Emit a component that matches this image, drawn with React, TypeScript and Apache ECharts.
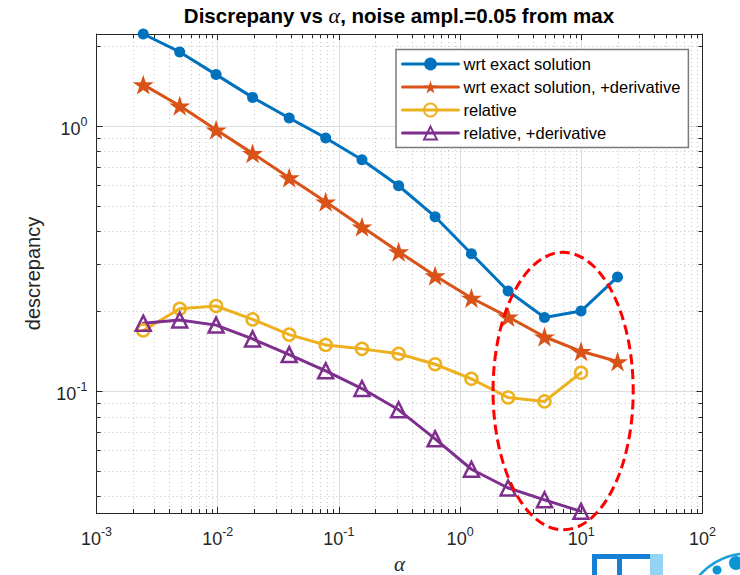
import React, { useEffect, useRef } from 'react';
import * as echarts from 'echarts';

// ---- data ----
const alphaValues = [0.00243, 0.00486, 0.0097, 0.0194, 0.0389, 0.0778, 0.155, 0.311, 0.622, 1.24, 2.49, 4.97, 9.95, 19.9];
const wrtExact = [2.22, 1.9, 1.56, 1.28, 1.07, 0.9, 0.744, 0.594, 0.454, 0.329, 0.238, 0.189, 0.2, 0.269];
const wrtExactDeriv = [1.43, 1.19, 0.966, 0.787, 0.637, 0.517, 0.416, 0.335, 0.272, 0.224, 0.19, 0.16, 0.141, 0.129];
const relative = [0.169, 0.204, 0.209, 0.186, 0.163, 0.149, 0.144, 0.138, 0.126, 0.111, 0.0944, 0.0912, 0.117];
const relativeDeriv = [0.18, 0.185, 0.177, 0.157, 0.137, 0.119, 0.102, 0.0848, 0.0659, 0.0506, 0.043, 0.0388, 0.0351];

const seriesNames = ['wrt exact solution', 'wrt exact solution, +derivative', 'relative', 'relative, +derivative'];
const seriesColors = ['#0072BD', '#D95319', '#EDB120', '#7E2F8E'];

const xRange = [0.001, 100];
const yRange = [0.0346, 2.22];
const decades = [-3, -2, -1, 0, 1];
const multipliers = [2, 3, 4, 5, 6, 7, 8, 9];

// highlighted region (data coordinates)
const ellipseAlpha = [1.87, 26.8];
const ellipseValue = [0.0299, 0.333];

const FONT = "'Liberation Sans', Arial, Helvetica, sans-serif";
const SERIF = "'Liberation Serif', 'DejaVu Serif', serif";
const AXIS_COLOR = '#262626';
const STAR = 'path://M100 0 L122.45 69.1 L195.11 69.1 L136.33 111.8 L158.78 180.9 L100 138.2 L41.22 180.9 L63.67 111.8 L4.89 69.1 L77.55 69.1 Z';

const pairs = (ys: number[]) => ys.map((y, i) => [alphaValues[i], y]);

const minorX: number[] = [];
decades.forEach((d) => multipliers.forEach((m) => minorX.push(+(m * Math.pow(10, d)).toPrecision(3))));
const minorY: number[] = [];
[-2, -1, 0].forEach((d) =>
  multipliers.forEach((m) => {
    const v = +(m * Math.pow(10, d)).toPrecision(3);
    if (v > yRange[0] && v < yRange[1]) minorY.push(v);
  })
);

const powLabel = (v: number) => {
  const l = Math.log10(v);
  const e = Math.round(l);
  if (Math.abs(l - e) > 1e-6) return '';
  return `{b|10}{s|${e}}`;
};

// both tokens have the same total height (20), so the superscript is raised by padding alone
const labelRich = {
  b: { fontSize: 18, lineHeight: 14, padding: [6, 0, 0, 0], fontFamily: FONT, color: AXIS_COLOR },
  s: { fontSize: 12.5, lineHeight: 12, padding: [0, 0, 8, 0], fontFamily: FONT, color: AXIS_COLOR },
};

const snap = (v: number) => Math.round(v) + 0.5;

export default function App() {
  const ref = useRef<HTMLDivElement>(null);
  useEffect(() => {
    if (!ref.current) return;
    const chart = echarts.init(ref.current, undefined, { renderer: 'svg' });

    const hollow = (c: string) => ({ color: 'rgba(255,255,255,0)', borderColor: c, borderWidth: 2.5 });

    const option: any = {
      animation: false,
      backgroundColor: '#ffffff',
      title: {
        text: 'Discrepany vs {a|α}, noise ampl.=0.05 from max',
        left: 399,
        textAlign: 'center',
        top: 3,
        padding: 0,
        textStyle: {
          fontFamily: FONT,
          fontWeight: 'bold',
          fontSize: 20.5,
          lineHeight: 24,
          color: '#000',
          rich: {
            a: { fontFamily: SERIF, fontStyle: 'italic', fontWeight: 'normal', fontSize: 22, lineHeight: 24, color: '#000' },
          },
        },
      },
      grid: { left: 96.5, right: 37.5, top: 34, bottom: 62, containLabel: false, outerBoundsMode: 'none' },
      legend: {
        data: seriesNames,
        orient: 'vertical',
        left: 396,
        top: 49.5,
        padding: [6, 8, 6, 5],
        itemGap: 6,
        itemWidth: 56,
        itemHeight: 16,
        backgroundColor: '#ffffff',
        borderColor: '#7a7a7a',
        borderWidth: 1.5,
        selectedMode: false,
        lineStyle: { width: 3 },
        textStyle: { fontFamily: FONT, fontSize: 16.5, color: '#000' },
      },
      xAxis: [
        {
          type: 'log',
          logBase: 10,
          min: xRange[0],
          max: xRange[1],
          position: 'bottom',
          name: 'α',
          nameLocation: 'middle',
          nameGap: 43,
          nameTextStyle: { fontFamily: SERIF, fontStyle: 'italic', fontSize: 21, lineHeight: 16, color: AXIS_COLOR },
          axisLine: { show: true, onZero: false, lineStyle: { color: AXIS_COLOR, width: 1 } },
          axisTick: { show: true, inside: true, length: 6, lineStyle: { color: AXIS_COLOR } },
          axisLabel: { formatter: powLabel, margin: 16, fontSize: 18, fontFamily: FONT, rich: labelRich, color: AXIS_COLOR },
          splitLine: { show: true, lineStyle: { color: '#dedede', width: 1 } },
        },
        {
          type: 'log',
          logBase: 10,
          min: xRange[0],
          max: xRange[1],
          position: 'top',
          axisLine: { show: true, onZero: false, lineStyle: { color: AXIS_COLOR, width: 1 } },
          axisTick: { show: true, inside: true, length: 6, lineStyle: { color: AXIS_COLOR } },
          axisLabel: { show: false },
          splitLine: { show: false },
        },
      ],
      yAxis: [
        {
          type: 'log',
          logBase: 10,
          min: yRange[0],
          max: yRange[1],
          position: 'left',
          name: 'descrepancy',
          nameLocation: 'middle',
          nameRotate: 90,
          nameGap: 54,
          nameTextStyle: { fontFamily: FONT, fontSize: 20, color: AXIS_COLOR },
          axisLine: { show: true, onZero: false, lineStyle: { color: AXIS_COLOR, width: 1 } },
          axisTick: { show: true, inside: true, length: 6, lineStyle: { color: AXIS_COLOR } },
          axisLabel: { formatter: powLabel, margin: 9, fontSize: 18, fontFamily: FONT, rich: labelRich, color: AXIS_COLOR },
          splitLine: { show: true, lineStyle: { color: '#dedede', width: 1 } },
        },
        {
          type: 'log',
          logBase: 10,
          min: yRange[0],
          max: yRange[1],
          position: 'right',
          axisLine: { show: true, onZero: false, lineStyle: { color: AXIS_COLOR, width: 1 } },
          axisTick: { show: true, inside: true, length: 6, lineStyle: { color: AXIS_COLOR } },
          axisLabel: { show: false },
          splitLine: { show: false },
        },
      ],
      series: [
        {
          name: '_minorX',
          type: 'custom',
          xAxisIndex: 0,
          yAxisIndex: 0,
          z: 1,
          silent: true,
          data: minorX.map((v) => [v, yRange[0]]),
          renderItem: (params: any, api: any) => {
            const cs = params.coordSys;
            const x = snap(api.coord([api.value(0), api.value(1)])[0]);
            const top = cs.y;
            const bot = cs.y + cs.height;
            return {
              type: 'group',
              children: [
                { type: 'line', shape: { x1: x, y1: top, x2: x, y2: bot }, style: { stroke: '#c4c4c4', lineWidth: 1, lineDash: [1, 3] } },
                { type: 'line', shape: { x1: x, y1: bot, x2: x, y2: bot - 4 }, style: { stroke: AXIS_COLOR, lineWidth: 1 } },
                { type: 'line', shape: { x1: x, y1: top, x2: x, y2: top + 4 }, style: { stroke: AXIS_COLOR, lineWidth: 1 } },
              ],
            };
          },
        },
        {
          name: '_minorY',
          type: 'custom',
          xAxisIndex: 0,
          yAxisIndex: 0,
          z: 1,
          silent: true,
          data: minorY.map((v) => [xRange[0], v]),
          renderItem: (params: any, api: any) => {
            const cs = params.coordSys;
            const y = snap(api.coord([api.value(0), api.value(1)])[1]);
            const l = cs.x;
            const r = cs.x + cs.width;
            return {
              type: 'group',
              children: [
                { type: 'line', shape: { x1: l, y1: y, x2: r, y2: y }, style: { stroke: '#c4c4c4', lineWidth: 1, lineDash: [1, 3] } },
                { type: 'line', shape: { x1: l, y1: y, x2: l + 4, y2: y }, style: { stroke: AXIS_COLOR, lineWidth: 1 } },
                { type: 'line', shape: { x1: r, y1: y, x2: r - 4, y2: y }, style: { stroke: AXIS_COLOR, lineWidth: 1 } },
              ],
            };
          },
        },
        {
          name: seriesNames[0],
          type: 'line',
          data: pairs(wrtExact),
          symbol: 'circle',
          symbolSize: 11,
          clip: false,
          z: 3,
          itemStyle: { color: seriesColors[0] },
          lineStyle: { width: 3, color: seriesColors[0], cap: 'round', join: 'round' },
        },
        {
          name: seriesNames[1],
          type: 'line',
          data: pairs(wrtExactDeriv),
          symbol: STAR,
          symbolKeepAspect: true,
          symbolSize: 21,
          clip: false,
          z: 3,
          itemStyle: { color: seriesColors[1] },
          lineStyle: { width: 3, color: seriesColors[1], cap: 'round', join: 'round' },
        },
        {
          name: seriesNames[2],
          type: 'line',
          data: pairs(relative),
          symbol: 'circle',
          symbolSize: 12,
          clip: false,
          z: 3,
          itemStyle: hollow(seriesColors[2]),
          lineStyle: { width: 3, color: seriesColors[2], cap: 'round', join: 'round' },
        },
        {
          name: seriesNames[3],
          type: 'line',
          data: pairs(relativeDeriv),
          symbol: 'triangle',
          symbolSize: 15,
          clip: false,
          z: 3,
          itemStyle: hollow(seriesColors[3]),
          lineStyle: { width: 3, color: seriesColors[3], cap: 'round', join: 'round' },
        },
      ],
    };

    chart.setOption(option);

    const p1 = chart.convertToPixel({ xAxisIndex: 0, yAxisIndex: 0 } as any, [ellipseAlpha[0], ellipseValue[1]]) as number[];
    const p2 = chart.convertToPixel({ xAxisIndex: 0, yAxisIndex: 0 } as any, [ellipseAlpha[1], ellipseValue[0]]) as number[];

    chart.setOption({
      graphic: [
        {
          type: 'ellipse',
          z: 100,
          silent: true,
          shape: { cx: (p1[0] + p2[0]) / 2, cy: (p1[1] + p2[1]) / 2, rx: Math.abs(p2[0] - p1[0]) / 2, ry: Math.abs(p2[1] - p1[1]) / 2 },
          style: { fill: 'none', stroke: '#ff0000', lineWidth: 3, lineDash: [10, 5] },
        },
        // partial logos at bottom right
        { type: 'rect', silent: true, shape: { x: 592, y: 554, width: 58, height: 5 }, style: { fill: '#1581d6' } },
        { type: 'rect', silent: true, shape: { x: 592, y: 554, width: 5, height: 21 }, style: { fill: '#1581d6' } },
        { type: 'rect', silent: true, shape: { x: 617, y: 554, width: 5, height: 21 }, style: { fill: '#1581d6' } },
        { type: 'rect', silent: true, shape: { x: 650, y: 554, width: 13, height: 21 }, style: { fill: '#93d4f4' } },
        { type: 'circle', silent: true, shape: { cx: 748, cy: 618, r: 64.5 }, style: { fill: '#ffffff', stroke: '#1a9fdb', lineWidth: 2.5 } },
        { type: 'circle', silent: true, shape: { cx: 717, cy: 570, r: 4.5 }, style: { fill: '#0a96d6' } },
        { type: 'circle', silent: true, shape: { cx: 736, cy: 563, r: 7 }, style: { fill: '#0a96d6' } },
      ],
    });

    return () => chart.dispose();
  }, []);

  return <div ref={ref} style={{ position: 'absolute', left: 0, top: 0, width: 740, height: 575 }} />;
}
